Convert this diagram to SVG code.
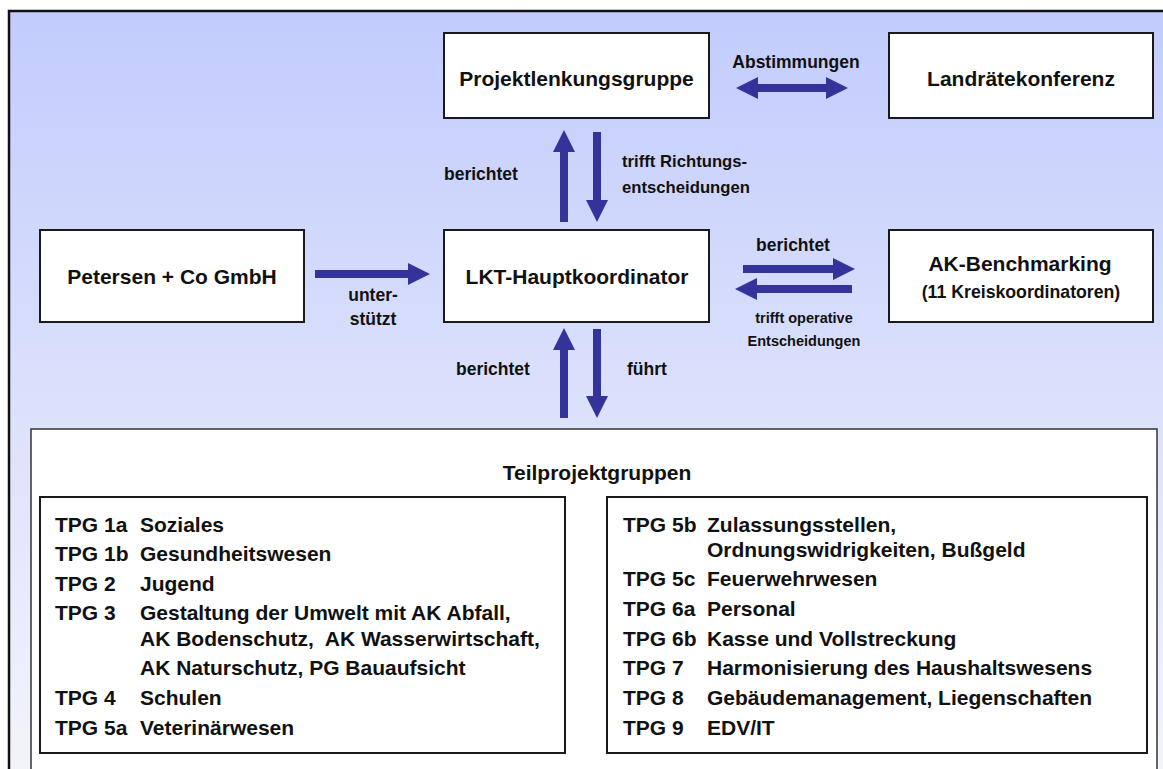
<svg xmlns="http://www.w3.org/2000/svg" width="1163" height="769" viewBox="0 0 1163 769">
<style>
text{font-family:"Liberation Sans",Arial,sans-serif;font-weight:bold;fill:#111}
.t{font-size:21px;text-anchor:middle}
.l{font-size:17.5px}
.lc{font-size:17.5px;text-anchor:middle}
.s{font-size:14.5px;text-anchor:middle}
.li{font-size:21px;white-space:pre}
.box{fill:#fff;stroke:#1a1a1a;stroke-width:2}
.grp{fill:#fff;stroke:#333;stroke-width:1.5}
.arr{stroke:#333399;stroke-width:8;fill:none}
</style>
<defs>
<linearGradient id="bg" x1="0" y1="10" x2="0" y2="769" gradientUnits="userSpaceOnUse">
<stop offset="0" stop-color="#c2ccfd"/>
<stop offset="1" stop-color="#f3f4fa"/>
</linearGradient>
<marker id="ah" viewBox="0 0 22 22" markerWidth="22" markerHeight="22" refX="0" refY="11" orient="auto-start-reverse" markerUnits="userSpaceOnUse">
<path d="M0,0 L22,11 L0,22 z" fill="#333399"/>
</marker>
</defs>
<rect x="9" y="11" width="1170" height="780" fill="url(#bg)" stroke="#111" stroke-width="2.5"/>

<g id="plg"><rect class="box" x="444" y="33" width="265" height="85"/><text class="t" x="576.5" y="86">Projektlenkungsgruppe</text></g>
<g id="lrk"><rect class="box" x="889" y="33" width="264" height="85"/><text class="t" x="1021" y="86">Landrätekonferenz</text></g>
<g id="pet"><rect class="box" x="40" y="230" width="264" height="92"/><text class="t" x="172" y="284">Petersen + Co GmbH</text></g>
<g id="lkt"><rect class="box" x="444" y="230" width="265" height="92"/><text class="t" x="577" y="284">LKT-Hauptkoordinator</text></g>
<g id="akb"><rect class="box" x="889" y="230" width="264" height="92"/><text class="t" x="1020" y="271">AK-Benchmarking</text><text class="t" x="1021" y="298" style="font-size:17.7px">(11 Kreiskoordinatoren)</text></g>

<g id="tpg">
<rect class="grp" x="31" y="429" width="1126" height="360"/>
<text class="t" x="597" y="480">Teilprojektgruppen</text>
<rect class="box" x="40" y="497" width="525" height="256"/>
<rect class="box" x="607" y="497" width="540" height="256"/>
<g class="li">
<text class="li" x="55" y="532">TPG 1a</text><text class="li" x="140" y="532">Soziales</text>
<text class="li" x="55" y="561">TPG 1b</text><text class="li" x="140" y="561">Gesundheitswesen</text>
<text class="li" x="55" y="591">TPG 2</text><text class="li" x="140" y="591">Jugend</text>
<text class="li" x="55" y="620">TPG 3</text><text class="li" x="140" y="620">Gestaltung der Umwelt mit AK Abfall,</text>
<text class="li" x="140" y="646">AK Bodenschutz,  AK Wasserwirtschaft,</text>
<text class="li" x="140" y="675">AK Naturschutz, PG Bauaufsicht</text>
<text class="li" x="55" y="705">TPG 4</text><text class="li" x="140" y="705">Schulen</text>
<text class="li" x="55" y="735">TPG 5a</text><text class="li" x="140" y="735">Veterinärwesen</text>
<text class="li" x="623" y="532">TPG 5b</text><text class="li" x="707" y="532">Zulassungsstellen,</text>
<text class="li" x="707" y="557">Ordnungswidrigkeiten, Bußgeld</text>
<text class="li" x="623" y="586">TPG 5c</text><text class="li" x="707" y="586">Feuerwehrwesen</text>
<text class="li" x="623" y="616">TPG 6a</text><text class="li" x="707" y="616">Personal</text>
<text class="li" x="623" y="646">TPG 6b</text><text class="li" x="707" y="646">Kasse und Vollstreckung</text>
<text class="li" x="623" y="675">TPG 7</text><text class="li" x="707" y="675">Harmonisierung des Haushaltswesens</text>
<text class="li" x="623" y="705">TPG 8</text><text class="li" x="707" y="705">Gebäudemanagement, Liegenschaften</text>
<text class="li" x="623" y="735">TPG 9</text><text class="li" x="707" y="735">EDV/IT</text>
</g>
</g>

<g id="connectors">
<line class="arr" x1="758" y1="88" x2="826" y2="88" marker-start="url(#ah)" marker-end="url(#ah)"/>
<line class="arr" x1="564" y1="222" x2="564" y2="152" marker-end="url(#ah)"/>
<line class="arr" x1="597" y1="132" x2="597" y2="200" marker-end="url(#ah)"/>
<line class="arr" x1="315" y1="274" x2="408" y2="274" marker-end="url(#ah)"/>
<line class="arr" x1="743" y1="269" x2="833" y2="269" marker-end="url(#ah)"/>
<line class="arr" x1="852" y1="289" x2="757" y2="289" marker-end="url(#ah)"/>
<line class="arr" x1="564" y1="418" x2="564" y2="350" marker-end="url(#ah)"/>
<line class="arr" x1="597" y1="329" x2="597" y2="396" marker-end="url(#ah)"/>
<text class="lc" x="796" y="68">Abstimmungen</text>
<text class="l" x="444" y="180">berichtet</text>
<text class="l" x="622" y="167" style="font-size:16.7px">trifft Richtungs-</text>
<text class="l" x="622" y="193" style="font-size:16.7px">entscheidungen</text>
<text class="lc" x="373" y="301">unter-</text>
<text class="lc" x="373" y="325">stützt</text>
<text class="lc" x="793" y="251">berichtet</text>
<text class="s" x="804" y="323">trifft operative</text>
<text class="s" x="804" y="346">Entscheidungen</text>
<text class="l" x="456" y="375">berichtet</text>
<text class="l" x="627" y="375">führt</text>
</g>
</svg>
